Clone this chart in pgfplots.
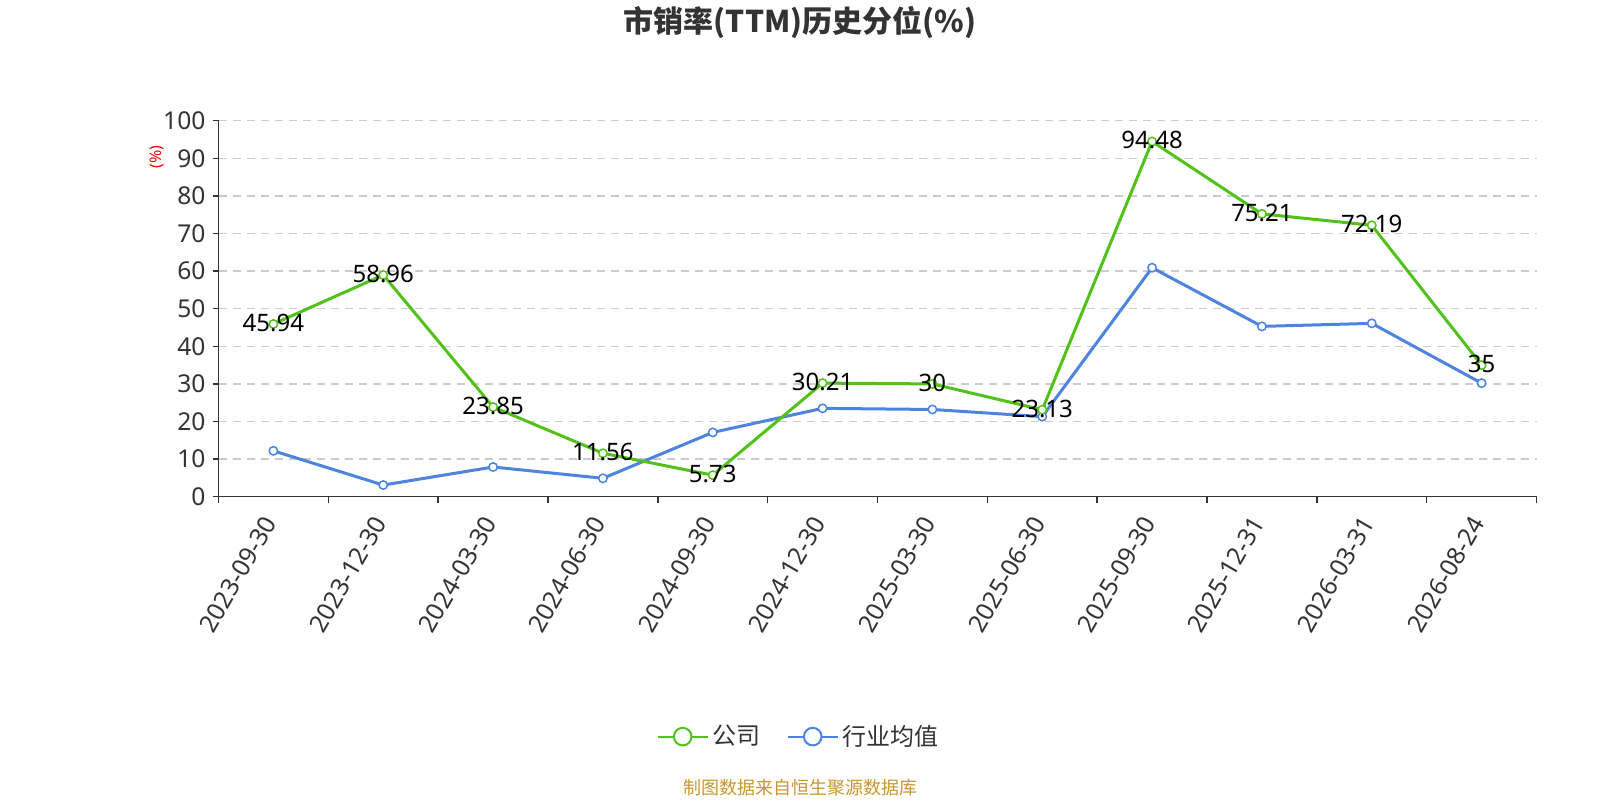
\documentclass[border=0pt]{standalone}
\usepackage{fontspec}
\setmainfont{Noto Sans}
\newfontfamily\cjk{Noto Sans CJK SC}
\usepackage{pgfplots}
\pgfplotsset{compat=1.18}
\definecolor{cgreen}{RGB}{82,194,26}
\definecolor{cblue}{RGB}{78,131,224}
\definecolor{ctext}{RGB}{51,51,51}
\definecolor{cgrid}{RGB}{204,204,204}
\definecolor{csrc}{RGB}{201,150,43}
\begin{document}
\begin{tikzpicture}
\useasboundingbox (-109.25pt,-151.65pt) rectangle (690.75pt,248.35pt);
\begin{axis}[
  at={(0,0)}, anchor=south west,
  scale only axis, width=659pt, height=188pt,
  xmin=-0.5, xmax=11.5, ymin=0, ymax=100,
  axis lines=left,
  axis line style={ctext, line width=0.75pt, -},
  tick align=outside,
  major tick length=3pt, minor tick length=3pt,
  tick style={ctext, line width=0.75pt},
  xtick={0,...,11},
  xticklabels={2023-09-30,2023-12-30,2024-03-30,2024-06-30,2024-09-30,2024-12-30,2025-03-30,2025-06-30,2025-09-30,2025-12-31,2026-03-31,2026-08-24},
  major x tick style={draw=none},
  minor xtick={-0.5,0.5,...,11.5},
  ytick={0,10,...,100},
  ymajorgrids,
  major grid style={cgrid, dash pattern=on 4pt off 3pt, line width=0.75pt},
  tick label style={font=\fontsize{12.3}{14}\selectfont, text=ctext},
  x tick label style={yshift=-5pt, rotate=60, anchor=east},
  /pgf/number format/assume math mode=true,
  legend image code/.code={
    \draw[line width=1pt] (0pt,0pt) -- (25pt,0pt);
    \draw[fill=white, line width=1pt] (12.5pt,0pt) circle (4.4pt);
  },
  legend style={draw=none, fill=none, at={(0.441,-0.638)}, anchor=center,
    font=\cjk\fontsize{12}{14}\selectfont, text=ctext,
    /tikz/every even column/.append style={column sep=11pt}},
  legend columns=2,
  clip=false,
]
\addplot[cblue, line width=1.5pt, mark=*, mark size=2.1pt,
  mark options={fill=white, line width=0.75pt}, forget plot]
  coordinates {(0,12.2) (1,3.1) (2,7.9) (3,4.9) (4,17.1) (5,23.5) (6,23.2) (7,21.3) (8,60.9) (9,45.3) (10,46.1) (11,30.2)};
\addplot[cgreen, line width=1.5pt, mark=*, mark size=2.1pt,
  mark options={fill=white, line width=0.75pt}, forget plot,
  nodes near coords,
  every node near coord/.style={anchor=center, yshift=0.5pt, font=\fontsize{12}{14}\selectfont, text=black}]
  coordinates {(0,45.94) (1,58.96) (2,23.85) (3,11.56) (4,5.73) (5,30.21) (6,30) (7,23.13) (8,94.48) (9,75.21) (10,72.19) (11,35)};
\addlegendimage{cgreen}
\addlegendentry{公司}
\addlegendimage{cblue}
\addlegendentry{行业均值}
\end{axis}
\node[text=ctext, font=\cjk\bfseries\fontsize{15}{17}\selectfont] at (290.75pt,237.35pt) {市销率(TTM)历史分位(\%)};
\node[text=red, rotate=90, font=\fontsize{8}{10}\selectfont] at (-30.75pt,169.85pt) {(\%)};
\node[text=csrc, font=\cjk\fontsize{9}{11}\selectfont] at (290.75pt,-145.65pt) {制图数据来自恒生聚源数据库};
\end{tikzpicture}
\end{document}
